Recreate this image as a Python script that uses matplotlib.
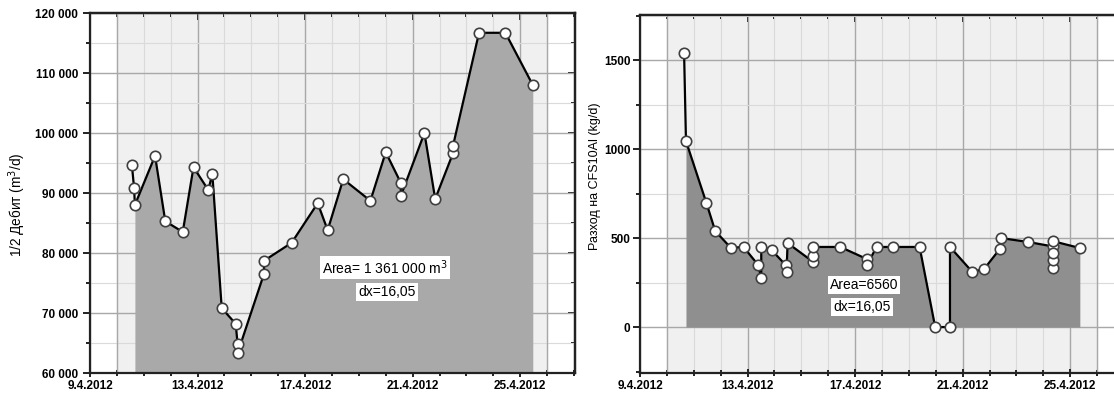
import datetime as dt
import matplotlib
matplotlib.use("Agg")
import matplotlib.pyplot as plt
import matplotlib.dates as mdates
from matplotlib.ticker import FuncFormatter, MultipleLocator, NullFormatter

plt.rcParams['font.family'] = ['Liberation Sans', 'DejaVu Sans']

# day of April 2012 (fractional)
flow_days = [10.56, 10.64, 10.67, 11.42, 11.80, 12.45, 12.85, 13.40, 13.55, 13.90,
             14.42, 14.49, 14.49, 15.47, 15.47, 16.50, 17.47, 17.84, 18.42, 19.43,
             20.00, 20.56, 20.56, 21.44, 21.84, 22.50, 22.50, 23.47, 24.45, 25.47]
flow_vals = [94600, 90800, 88000, 96200, 85300, 83500, 94300, 90500, 93200, 70800,
             68200, 64800, 63300, 76500, 78700, 81700, 88300, 83800, 92300, 88700,
             96800, 91700, 89500, 100000, 89000, 96600, 97800, 116700, 116700, 108000]

dose_days = [10.64, 10.71, 11.47, 11.80, 12.38, 12.85, 13.40, 13.51, 13.51, 13.90,
             14.42, 14.45, 14.49, 15.45, 15.45, 15.45, 16.45, 17.44, 17.44, 17.80,
             18.40, 19.40, 19.98, 20.53, 20.53, 21.36, 21.80, 22.38, 22.42, 23.44,
             24.35, 24.35, 24.35, 24.35, 24.35, 25.36]
dose_vals = [1539, 1045, 697, 539, 445, 450, 348, 275, 450, 432,
             348, 310, 472, 365, 400, 450, 450, 382, 348, 450,
             450, 450, 0, 0, 450, 310, 326, 438, 500, 478,
             453, 331, 378, 415, 483, 444]

flow_label = "Area= 1 361 000 m$^3$"
dose_label = "Area=6560"
dx_label = "dx=16,05"

x_ticks_days = [9, 13, 17, 21, 25]
x_start, x_end = 9.0, 27.04
shade_from, shade_to = 10.0, 26.0


def to_num(days):
    base = mdates.date2num(dt.datetime(2012, 4, 1))
    return [base + d - 1 for d in days]


def date_fmt(v, pos):
    d = mdates.num2date(v)
    return f"{d.day}.{d.month}.{d.year}"


def thousands(v, pos):
    return f"{int(round(v)):,}".replace(",", " ")


def style_axes(ax, ymin, ymax, ymajor, yminor):
    x0, x1 = to_num([x_start, x_end])
    ax.set_xlim(x0, x1)
    ax.set_ylim(ymin, ymax)
    s0, s1 = to_num([shade_from, shade_to])
    ax.axvspan(s0, s1, color='#f0f0f0', zorder=0)
    ax.xaxis.set_major_locator(mdates.DayLocator(bymonthday=x_ticks_days))
    ax.xaxis.set_minor_locator(mdates.DayLocator())
    ax.xaxis.set_major_formatter(FuncFormatter(date_fmt))
    ax.yaxis.set_major_locator(MultipleLocator(ymajor))
    ax.yaxis.set_minor_locator(MultipleLocator(yminor))
    ax.grid(which='major', color='#a8a8a8', lw=1.0, zorder=1)
    ax.grid(which='minor', color='#dadada', lw=0.8, zorder=1)
    for x in (s0, s1):
        ax.axvline(x, color='#a8a8a8', lw=1.0, zorder=1)
    ax.set_axisbelow(True)
    for sp in ax.spines.values():
        sp.set_linewidth(1.6)
        sp.set_color('#222222')
    ax.tick_params(axis='y', which='both', direction='out', left=True, right=False,
                   labelsize=8.5, width=1.4, color='#222222')
    ax.tick_params(axis='y', which='major', length=5)
    ax.tick_params(axis='y', which='minor', length=3)
    ax.tick_params(axis='x', which='both', direction='inout', top=False,
                   labelsize=8.5, width=1.4, color='#222222', pad=2)
    ax.tick_params(axis='x', which='major', length=6)
    ax.tick_params(axis='x', which='minor', length=4)

    # inward ticks on top and right frame
    top = ax.secondary_xaxis('top')
    top.xaxis.set_major_locator(mdates.DayLocator(bymonthday=x_ticks_days))
    top.xaxis.set_minor_locator(mdates.DayLocator())
    top.xaxis.set_major_formatter(NullFormatter())
    top.tick_params(which='both', direction='in', width=1.4, color='#222222')
    top.tick_params(which='major', length=5)
    top.tick_params(which='minor', length=3)
    top.spines['top'].set_linewidth(1.6)
    right = ax.secondary_yaxis('right')
    right.yaxis.set_major_locator(MultipleLocator(ymajor))
    right.yaxis.set_minor_locator(MultipleLocator(yminor))
    right.yaxis.set_major_formatter(NullFormatter())
    right.tick_params(which='both', direction='in', width=1.4, color='#222222')
    right.tick_params(which='major', length=5)
    right.tick_params(which='minor', length=3)
    right.spines['right'].set_linewidth(1.6)

    for lab in ax.get_xticklabels() + ax.get_yticklabels():
        lab.set_fontweight('bold')


fig = plt.figure(figsize=(11.14, 3.96), dpi=100)
box = dict(facecolor='white', edgecolor='none', pad=1.5)

# left: flow
ax1 = fig.add_axes([90 / 1114, 23 / 396, 485 / 1114, 360 / 396])
style_axes(ax1, 60000, 120000, 10000, 5000)
ax1.yaxis.set_major_formatter(FuncFormatter(thousands))
fx = to_num(flow_days)
ax1.fill_between(fx[2:], flow_vals[2:], 60000, color='#a9a9a9', lw=0, zorder=2)
ax1.plot(fx, flow_vals, color='black', lw=1.6, zorder=3)
ax1.plot(fx, flow_vals, 'o', ms=7.5, mfc='white', mec='#404040', mew=1.2, zorder=4)
ax1.set_ylabel("1/2 Дебит (m$^3$/d)", fontsize=9.8)
ax1.yaxis.set_label_coords(-0.128, 0.467)
ax1.text(0.608, 0.292, flow_label, transform=ax1.transAxes, ha='center', va='center',
         fontsize=10, bbox=box, zorder=5)
ax1.text(0.612, 0.225, dx_label, transform=ax1.transAxes, ha='center', va='center',
         fontsize=10, bbox=box, zorder=5)
for lab in ax1.get_xticklabels() + ax1.get_yticklabels():
    lab.set_fontweight('bold')

# right: dosing
ax2 = fig.add_axes([640 / 1114, 23 / 396, 485 / 1114, 358 / 396])
style_axes(ax2, -258, 1753, 500, 250)
ax2.tick_params(axis='y', which='both', pad=2)
dx_ = to_num(dose_days)
ax2.fill_between(dx_[1:], dose_vals[1:], 0, color='#8f8f8f', lw=0, zorder=2)
ax2.plot(dx_, dose_vals, color='black', lw=1.6, zorder=3)
ax2.plot(dx_, dose_vals, 'o', ms=7.5, mfc='white', mec='#404040', mew=1.2, zorder=4)
ax2.set_ylabel("Разход на CFS10Al (kg/d)", fontsize=9)
ax2.yaxis.set_label_coords(-0.08, 0.55)
ax2.text(0.462, 0.246, dose_label, transform=ax2.transAxes, ha='center', va='center',
         fontsize=10, bbox=box, zorder=5)
ax2.text(0.458, 0.184, dx_label, transform=ax2.transAxes, ha='center', va='center',
         fontsize=10, bbox=box, zorder=5)
for lab in ax2.get_xticklabels() + ax2.get_yticklabels():
    lab.set_fontweight('bold')

fig.savefig("out.png", dpi=100)
